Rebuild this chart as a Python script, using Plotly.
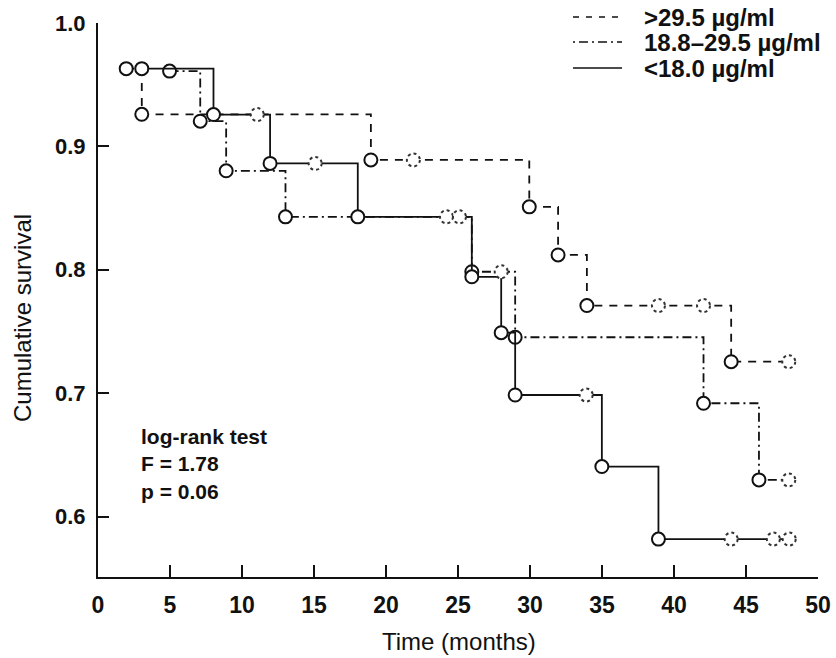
import plotly.graph_objects as go

# ---- data ----
hi_label = ">29.5 µg/ml"
hi_t = [1.96, 3.04, 18.95, 29.95, 31.95, 33.95, 43.97]
hi_s = [0.963, 0.926, 0.889, 0.851, 0.812, 0.771, 0.7255]
hi_end_t = 47.97
hi_cens_t = [21.9, 38.92, 42.05, 47.97]
hi_cens_s = [0.889, 0.771, 0.771, 0.7255]

mid_label = "18.8–29.5 µg/ml"
mid_t = [4.97, 7.1, 8.9, 13.02, 25.96, 28.97, 42.05, 45.9]
mid_s = [0.961, 0.9204, 0.8802, 0.8429, 0.7984, 0.7453, 0.6918, 0.6297]
mid_end_t = 47.97
mid_cens_t = [24.2, 28.0, 47.97]
mid_cens_s = [0.8429, 0.7984, 0.6297]

lo_label = "<18.0 µg/ml"
lo_t = [3.04, 8.02, 11.95, 18.04, 25.96, 28.0, 28.97, 34.99, 38.92]
lo_s = [0.963, 0.9258, 0.8862, 0.8429, 0.7943, 0.749, 0.6985, 0.6405, 0.5817]
lo_end_t = 48.0
lo_cens_t = [11.06, 15.08, 25.1, 33.9, 43.97, 46.9, 48.0]
lo_cens_s = [0.9258, 0.8862, 0.8429, 0.6985, 0.5817, 0.5817, 0.5817]

x_ticks = [0, 5, 10, 15, 20, 25, 30, 35, 40, 45, 50]
y_ticks = [0.6, 0.7, 0.8, 0.9, 1.0]
y_tick_text = ["0.6", "0.7", "0.8", "0.9", "1.0"]

stats_lines = ["log-rank test", "F = 1.78", "p = 0.06"]
x_title = "Time (months)"
y_title = "Cumulative survival"

# ---- styling / layout ----
FONT = "Liberation Sans"
INK = "#111111"
W, H = 836, 658
ML, MR, MT, MB = 98, 18, 23, 81
PW, PH = W - ML - MR, H - MT - MB


def px_x(p):
    return (p - ML) / PW


def px_y(p):
    return (H - MB - p) / PH


series = [
    (hi_label, hi_t, hi_s, hi_end_t, hi_cens_t, hi_cens_s, "8px,7px", "6px,7px"),
    (mid_label, mid_t, mid_s, mid_end_t, mid_cens_t, mid_cens_s, "9px,4px,2px,4px", "2px,4px,9px,4px"),
    (lo_label, lo_t, lo_s, lo_end_t, lo_cens_t, lo_cens_s, "solid", "solid"),
]
legend_rows_px = [17, 42, 68]

fig = go.Figure()
shapes = []
annotations = []
for (label, t, s, tend, ct, cs, dash, ldash), ry in zip(series, legend_rows_px):
    xs = list(t) + [tend]
    ys = list(s) + [s[-1]]
    fig.add_trace(go.Scatter(
        x=xs, y=ys, mode="lines", line=dict(color=INK, width=1.8, dash=dash, shape="hv"),
        showlegend=False, hoverinfo="skip"))
    fig.add_trace(go.Scatter(
        x=t, y=s, mode="markers",
        marker=dict(symbol="circle", size=13, color="white", line=dict(color=INK, width=2)),
        showlegend=False, hoverinfo="skip"))
    for cx, cy in zip(ct, cs):
        shapes.append(dict(
            type="circle", xref="x", yref="y", xsizemode="pixel", ysizemode="pixel",
            xanchor=cx, yanchor=cy, x0=-6.5, x1=6.5, y0=-6.5, y1=6.5,
            line=dict(color="#333333", width=2, dash="dot"), fillcolor="white", layer="above"))
    # legend key (drawn by hand so it can sit in the top margin)
    shapes.append(dict(type="line", xref="paper", yref="paper",
                       x0=px_x(573), x1=px_x(622), y0=px_y(ry), y1=px_y(ry),
                       line=dict(color=INK, width=1.4, dash=ldash)))
    annotations.append(dict(text=label, xref="paper", yref="paper", x=px_x(642), y=px_y(ry),
                            xanchor="left", yanchor="middle", showarrow=False,
                            font=dict(family=FONT, size=24, weight="bold", color=INK)))

annotations += [
    dict(text="<br>".join(stats_lines), x=2.85, y=0.6427, xref="x", yref="y",
         xanchor="left", yanchor="middle", align="left", showarrow=False,
         font=dict(family=FONT, size=21, weight="bold", color=INK)),
    dict(text=y_title, x=px_x(22), y=px_y(318), xref="paper", yref="paper",
         xanchor="center", yanchor="middle", textangle=-90, showarrow=False,
         font=dict(family=FONT, size=24, color=INK)),
    dict(text=x_title, x=px_x(459), y=px_y(642), xref="paper", yref="paper",
         xanchor="center", yanchor="middle", showarrow=False,
         font=dict(family=FONT, size=24, color=INK)),
]

fig.update_layout(
    width=W, height=H,
    margin=dict(l=ML, r=MR, t=MT, b=MB, autoexpand=False),
    paper_bgcolor="white", plot_bgcolor="white",
    font=dict(family=FONT, color=INK),
    shapes=shapes,
    annotations=annotations,
    showlegend=False,
)

fig.update_xaxes(
    range=[0, 50], tickvals=x_ticks, ticks="inside", ticklen=12, tickwidth=2, tickcolor=INK,
    showline=True, linewidth=2, linecolor=INK, showgrid=False, zeroline=False,
    tickfont=dict(family=FONT, size=23, weight="bold", color=INK), ticklabelstandoff=6,
)
fig.update_yaxes(
    range=[0.551, 1.0], tickvals=y_ticks, ticktext=y_tick_text, ticks="inside", ticklen=11,
    tickwidth=2, tickcolor=INK, showline=True, linewidth=2, linecolor=INK, showgrid=False,
    zeroline=False, tickfont=dict(family=FONT, size=22, weight="bold", color=INK),
    ticklabelstandoff=6,
)

fig.write_html("out.html")
